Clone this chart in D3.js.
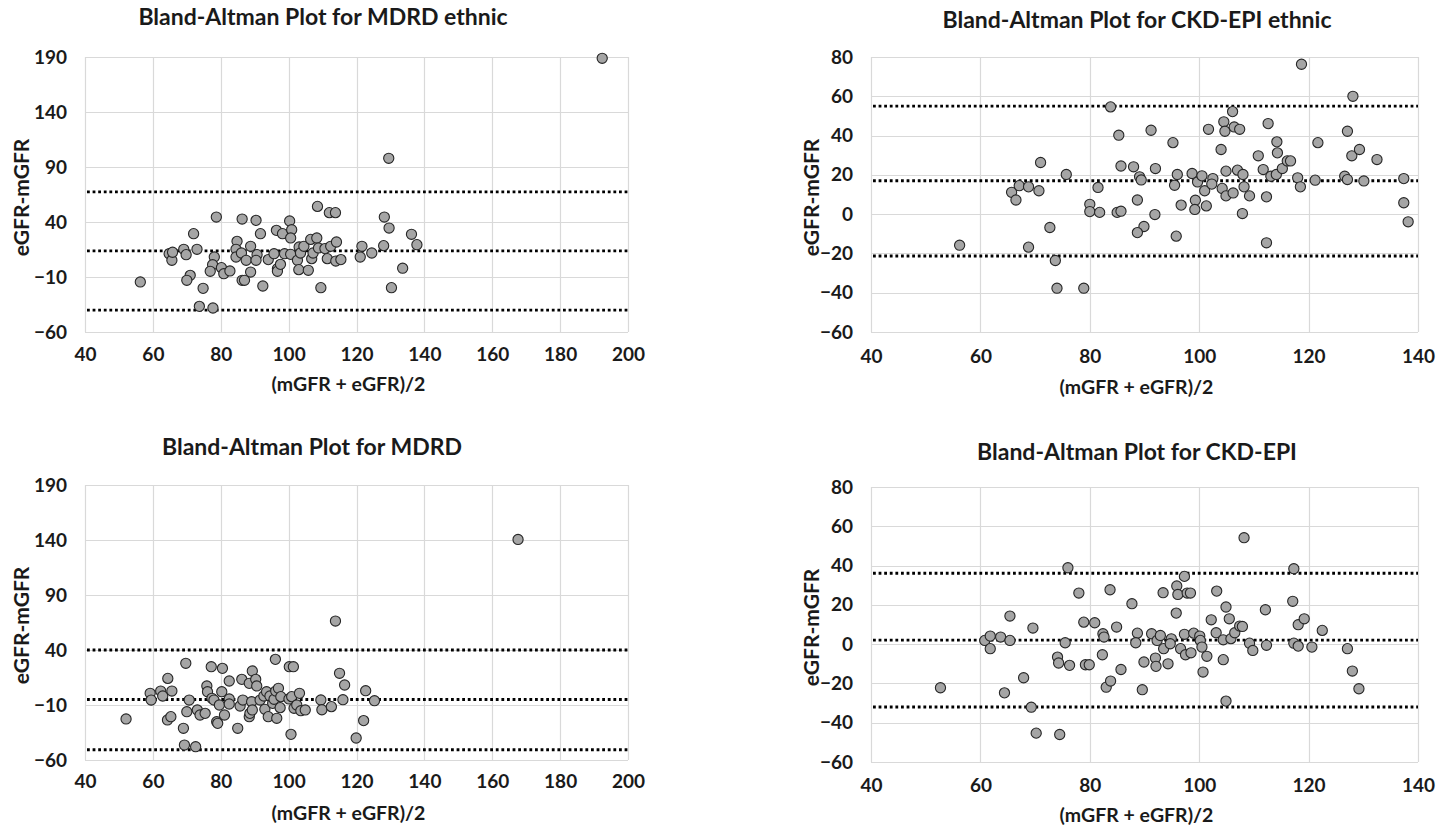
<!DOCTYPE html>
<html><head><meta charset="utf-8">
<script src="https://cdn.jsdelivr.net/npm/d3@7"></script>
<style>html,body{margin:0;padding:0;background:#fff;}svg{display:block;}</style>
</head><body>
<svg id="chart" width="1451" height="828"></svg>
<script>
// ---------- data ----------
const titles = ["Bland-Altman Plot for MDRD ethnic", "Bland-Altman Plot for CKD-EPI ethnic",
                "Bland-Altman Plot for MDRD", "Bland-Altman Plot for CKD-EPI"];
const xAxisTitle = "(mGFR + eGFR)/2";
const yAxisTitle = "eGFR-mGFR";
const xTicksWide = [40, 60, 80, 100, 120, 140, 160, 180, 200];
const yTicksWide = [190, 140, 90, 40, -10, -60];
const xTicksNarrow = [40, 60, 80, 100, 120, 140];
const yTicksNarrow = [80, 60, 40, 20, 0, -20, -40, -60];

const mdrdEthnicMean = [56.3,64.8,65.6,65.8,69.1,69.8,72.0,73.0,71.0,70.0,74.8,73.7,77.7,78.7,78.1,77.6,76.9,80.2,80.9,82.7,84.8,84.5,84.5,86.1,86.3,86.3,87.0,87.5,88.8,88.8,90.4,90.7,90.4,91.7,92.4,94.0,95.7,96.4,96.7,96.7,97.6,98.2,98.8,100.3,100.9,100.6,100.6,102.6,103.0,103.1,103.5,104.5,105.8,106.5,106.8,107.2,108.3,108.5,108.8,109.5,110.7,111.4,112.0,112.4,113.8,113.9,114.1,115.4,121.1,121.6,124.5,128.2,128.0,129.5,129.6,130.3,133.6,136.2,137.8,192.4];
const mdrdEthnicDiff = [-14.5,11.2,5.2,12.5,15.2,10.3,29.4,15.2,-8.5,-13,-20.3,-36.7,-38.2,44.5,8.2,1.2,-4.8,-1.5,-7,-4.5,22.4,15.2,8.2,11.8,42.7,-13,-13,5.2,17.9,-5.5,41.5,10.3,5.2,29.4,-18.2,5.8,11.2,32.4,-2.4,-4.8,1.5,29.4,11.2,40.9,33,25.5,10.6,5.2,-3.3,17.3,11.8,17.9,-3.9,24.2,6.7,11.8,25.5,54.2,16.4,-19.7,15.8,6.7,48.5,17.9,48.5,4.5,21.8,5.8,8.2,17.9,11.8,44.5,18.5,97.9,34.5,-19.7,-2,28.8,19.4,188.8];
const mdrdEthnicLimits = [67.3, 13.8, -40.2];

const ckdEthnicMean = [56.2,65.7,66.5,67.1,68.8,68.8,71.0,70.7,72.7,73.7,74.0,75.7,78.9,80.0,80.0,81.5,81.8,83.8,85.3,85.7,85.0,85.7,88.0,89.1,89.4,88.7,89.9,88.7,91.2,92.0,91.9,95.2,96.0,95.5,96.7,95.8,98.7,99.7,100.5,101.0,99.3,99.2,101.3,102.5,102.3,101.7,104.0,104.5,104.7,106.1,106.4,107.4,104.2,104.9,104.9,106.2,107.0,108.0,108.2,107.9,109.2,110.8,111.7,112.6,112.3,112.3,113.1,114.1,114.2,114.3,115.2,116.1,116.7,118.0,118.5,118.7,121.2,121.7,126.6,127.1,127.1,128.1,127.9,129.3,130.1,132.5,137.4,137.4,138.2];
const ckdEthnicDiff = [-15.8,11.1,7.2,14.5,13.9,-16.8,26.3,11.9,-6.8,-23.6,-37.7,20.2,-37.7,5,1.3,13.6,0.9,54.6,40.2,24.5,0.9,1.5,24.1,19,17.4,7.2,-6.3,-9.4,42.7,23.2,-0.2,36.4,20.2,14.7,4.6,-11.2,20.7,16.4,19.5,11.9,7.1,2.4,4.2,18.1,15.3,43.2,32.9,47,42.2,52.2,44.4,43.2,13.1,21.9,9.3,10.8,22.4,20.2,13.9,0.3,9.3,29.7,22.7,46.1,8.8,-14.6,19.3,20.2,36.8,31.2,23.2,27.1,27.1,18.5,13.9,76.3,17.3,36.4,19.3,17.6,42.2,60,29.7,32.9,16.9,27.8,18.1,5.8,-3.9];
const ckdEthnicLimits = [55.0, 17.0, -21.3];

const mdrdMean = [52.1,59.2,59.5,62.3,62.9,65.6,64.4,64.3,65.3,69.7,70.7,70.0,69.0,69.3,72.6,73.1,73.9,75.4,75.9,76.1,77.2,77.4,78.0,78.8,79.1,79.6,80.3,80.5,81.1,82.5,82.5,82.5,85.0,85.7,86.2,86.5,88.4,88.6,88.4,89.3,89.1,89.3,90.3,90.6,91.6,92.7,93.0,93.5,94.0,94.5,95.3,95.7,96.1,96.2,96.5,97.0,97.5,97.7,100.2,101.4,100.1,100.9,101.6,102.4,103.2,103.6,104.9,100.7,109.5,109.8,112.6,113.8,115.0,116.5,116.0,122.7,125.3,122.1,119.9,167.6];
const mdrdDiff = [-22.7,0.6,-5.5,2.7,-1.8,2.7,14.2,-23.6,-20.6,27.9,-5.5,-16.1,-31.2,-46.4,-47.9,-14.5,-19.1,-17.6,7.3,2.1,24.8,-3.9,-5.5,-25.2,-26.7,-10,2.1,23.3,-19.1,11.8,-4.5,-9.1,-31.2,-10.9,13.3,-5.5,-20.6,-17.6,9.7,20.9,-7,-14.5,13.3,7.3,-5.5,-1.8,-13.9,2.1,-20.6,-1.8,-8.5,-4.8,31.5,2.7,-22.1,5.2,-12.4,-2.4,24.8,24.8,-4.5,-2.4,-13,-10,0.6,-15.2,-14.5,-36.7,-5.4,-14.3,-11.5,66.3,18.8,8.2,-5.2,3,-6.1,-24.2,-40,140.5];
const mdrdLimits = [40.0, -5.0, -50.7];

const ckdMean = [52.7,60.8,61.8,61.8,63.7,65.4,65.4,64.4,67.9,69.6,69.3,70.2,74.5,74.1,74.3,75.5,76.3,76.0,78.0,78.9,79.2,79.9,80.9,82.4,82.6,82.3,83.7,84.9,83.0,83.8,85.7,87.7,88.7,88.4,89.9,89.6,91.3,92.0,92.1,92.3,92.9,93.4,93.5,94.3,94.9,94.7,95.8,95.9,96.1,96.6,97.3,97.5,97.3,97.8,98.4,98.5,99.0,100.1,100.2,100.5,100.7,101.4,102.2,103.1,103.2,104.4,104.4,104.9,104.9,105.5,105.8,106.5,107.4,107.9,108.2,109.2,109.8,112.1,112.3,117.1,117.3,117.3,118.1,118.1,119.2,120.6,122.5,127.1,128.0,129.2];
const ckdDiff = [-22.2,1.9,4.1,-2.3,3.6,1.9,14.3,-24.8,-17.1,8.2,-32.1,-45.3,-46,-6.6,-9.6,0.7,-10.8,38.9,26,11.2,-10.5,-10.5,10.9,5.3,3.6,-5.4,27.7,8.7,-21.9,-18.8,-12.9,20.6,5.6,0.7,-9.1,-23.2,5.3,-7.1,-11.3,1.9,4.4,26.2,-2.3,-10,2.7,0.2,15.8,29.6,25.3,-2.3,34.5,-5.4,5,26,26,-4.4,5.6,4.1,1.9,-1.5,-14.2,-6.2,12.4,5.8,27,2.2,-7.9,18.9,-29,12.9,2.8,5.8,9.2,9,54.2,0.5,-3.2,17.5,-0.6,21.8,38.4,0.5,-1,9.9,12.9,-1.5,7,-2.3,-13.7,-22.7];
const ckdLimits = [36.1, 2.0, -32.0];

// ---------- layout ----------
const panels = [
  {title: titles[0], xs: mdrdEthnicMean, ys: mdrdEthnicDiff, lim: mdrdEthnicLimits, xt: xTicksWide, yt: yTicksWide,
   box: [85, 57, 628, 332], titlePos: [323, 17], xTitleDy: 52, tickPad: 16, yTitleX: 22},
  {title: titles[1], xs: ckdEthnicMean, ys: ckdEthnicDiff, lim: ckdEthnicLimits, xt: xTicksNarrow, yt: yTicksNarrow,
   box: [871, 57, 1418, 332], titlePos: [1137, 20], xTitleDy: 55, tickPad: 18, yTitleX: 812},
  {title: titles[2], xs: mdrdMean, ys: mdrdDiff, lim: mdrdLimits, xt: xTicksWide, yt: yTicksWide,
   box: [85, 485, 628, 760], titlePos: [312, 447], xTitleDy: 53, tickPad: 15, yTitleX: 22},
  {title: titles[3], xs: ckdMean, ys: ckdDiff, lim: ckdLimits, xt: xTicksNarrow, yt: yTicksNarrow,
   box: [871, 487, 1418, 762], titlePos: [1137, 452], xTitleDy: 53, tickPad: 17, yTitleX: 812}
];

const svg = d3.select("#chart");
svg.append("rect").attr("width", 1451).attr("height", 828).attr("fill", "#fff");
const FONT = "Lato, 'Open Sans', sans-serif";
const gridCol = "#d9d9d9";
const textCol = "#1a1a1a";

panels.forEach(p => {
  const [x0, y0, x1, y1] = p.box;
  const x = d3.scaleLinear().domain(d3.extent(p.xt)).range([x0, x1]);
  const y = d3.scaleLinear().domain(d3.extent(p.yt)).range([y1, y0]);
  const g = svg.append("g");

  // gridlines
  g.append("g").selectAll("line").data(p.yt).join("line")
    .attr("x1", x0).attr("x2", x1).attr("y1", d => Math.round(y(d)) + 0.5).attr("y2", d => Math.round(y(d)) + 0.5)
    .attr("stroke", gridCol).attr("stroke-width", 1.2);
  g.append("g").selectAll("line").data(p.xt).join("line")
    .attr("y1", y0).attr("y2", y1).attr("x1", d => Math.round(x(d)) + 0.5).attr("x2", d => Math.round(x(d)) + 0.5)
    .attr("stroke", gridCol).attr("stroke-width", 1.2);

  // axes (labels only)
  const xa = g.append("g").attr("transform", `translate(0,${y1})`)
    .call(d3.axisBottom(x).tickValues(p.xt).tickSize(0).tickPadding(p.tickPad));
  const ya = g.append("g").attr("transform", `translate(${x0},0)`)
    .call(d3.axisLeft(y).tickValues(p.yt).tickSize(0).tickPadding(18));
  [xa, ya].forEach(a => {
    a.select(".domain").remove();
    a.selectAll("text").attr("font-family", FONT).attr("font-weight", 700)
      .attr("font-size", 19).attr("fill", textCol);
  });

  // limit lines (mean and limits of agreement)
  g.append("g").selectAll("line").data(p.lim).join("line")
    .attr("x1", x0 + 2).attr("x2", x1).attr("y1", d => y(d)).attr("y2", d => y(d))
    .attr("stroke", "#000").attr("stroke-width", 2.8).attr("stroke-dasharray", "2.8 2.8");

  // points
  g.append("g").selectAll("circle").data(d3.range(p.xs.length)).join("circle")
    .attr("cx", i => x(p.xs[i])).attr("cy", i => y(p.ys[i])).attr("r", 5.1)
    .attr("fill", "#a5a5a5").attr("stroke", "#262626").attr("stroke-width", 1.1);

  // titles
  g.append("text").attr("x", p.titlePos[0]).attr("y", p.titlePos[1]).attr("dy", "0.35em")
    .attr("text-anchor", "middle").attr("font-family", FONT).attr("font-weight", 700)
    .attr("font-size", 23).attr("fill", textCol).text(p.title);
  g.append("text").attr("x", (x0 + x1) / 2 - 8).attr("y", y1 + p.xTitleDy).attr("dy", "0.35em")
    .attr("text-anchor", "middle").attr("font-family", FONT).attr("font-weight", 700)
    .attr("font-size", 19.5).attr("fill", textCol).text(xAxisTitle);
  g.append("text").attr("transform", `translate(${p.yTitleX},${(y0 + y1) / 2 + 3}) rotate(-90)`).attr("dy", "0.35em")
    .attr("text-anchor", "middle").attr("font-family", FONT).attr("font-weight", 700)
    .attr("font-size", 21).attr("fill", textCol).text(yAxisTitle);
});
</script>
</body></html>
